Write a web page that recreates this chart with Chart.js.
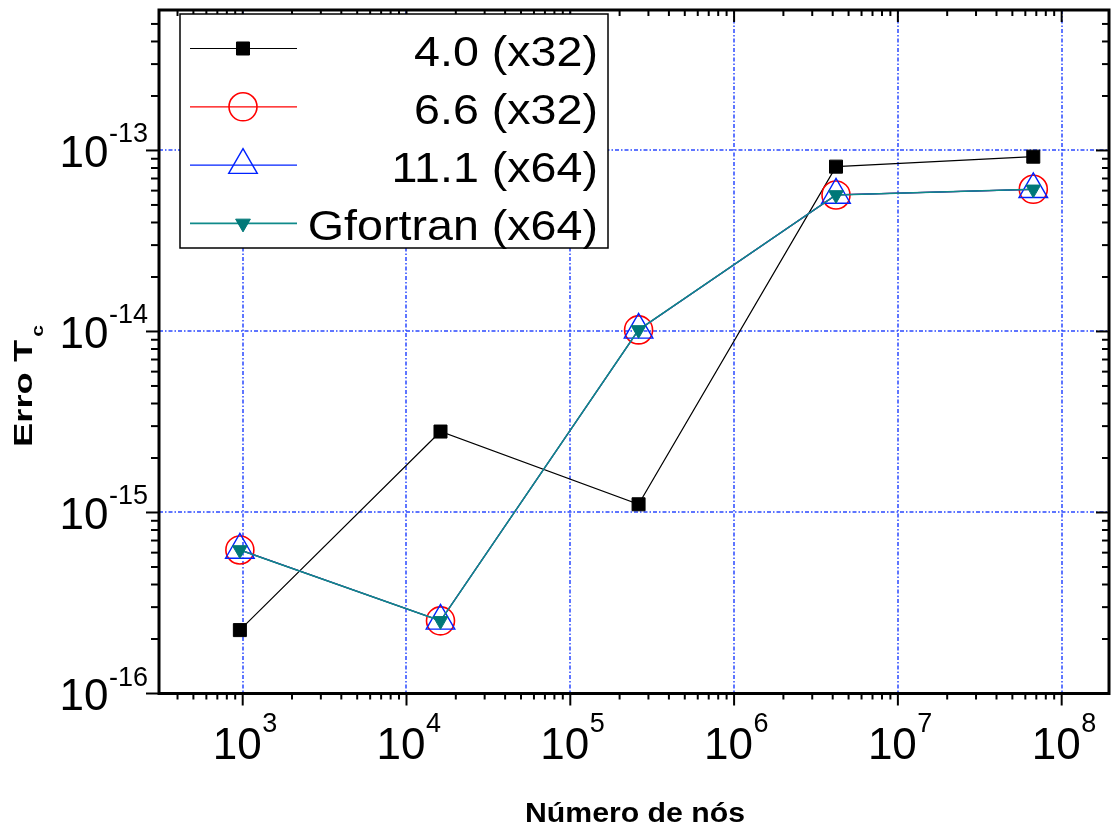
<!DOCTYPE html>
<html>
<head>
    <title>Erro Tc vs Número de nós</title>
    <script src="https://cdn.jsdelivr.net/npm/chart.js"></script>
    <style>
        body { margin: 0; background: #fff; }
    </style>
</head>
<body>
    <canvas id="errChart" width="1112" height="827"></canvas>

    <script>
        // dados
        const nodes = [961, 16129, 261121, 4190209, 67092481];
        const err40 = [2.24e-16, 2.80e-15, 1.11e-15, 8.14e-14, 9.24e-14];
        const err66 = [6.21e-16, 2.52e-16, 1.02e-14, 5.68e-14, 6.10e-14];
        const err111 = [6.21e-16, 2.52e-16, 1.02e-14, 5.68e-14, 6.10e-14];
        const errGf = [6.21e-16, 2.52e-16, 1.02e-14, 5.68e-14, 6.10e-14];
        const seriesLabels = ['4.0 (x32)', '6.6 (x32)', '11.1 (x64)', 'Gfortran (x64)'];
        const xTickExps = [3, 4, 5, 6, 7, 8];
        const yTickExps = [-16, -15, -14, -13];
        const xTitle = 'Número de nós';
        const yTitle = 'Erro T';
        const yTitleSub = 'c';

        const FONT = "'Liberation Sans', Arial, sans-serif";

        function pts(ys) {
            return nodes.map((x, i) => ({ x: x, y: ys[i] }));
        }

        function txt(ctx, s, x, y, font, align, sx) {
            ctx.save();
            ctx.font = font;
            const w = ctx.measureText(s).width * sx;
            const x0 = align === 'right' ? x - w : (align === 'center' ? x - w / 2 : x);
            ctx.translate(x0, y);
            ctx.scale(sx, 1);
            ctx.textAlign = 'left';
            ctx.textBaseline = 'alphabetic';
            ctx.fillStyle = '#000';
            ctx.fillText(s, 0, 0);
            ctx.restore();
            return w;
        }

        // grade, eixos, rótulos e legenda desenhados à moda do Origin
        const originStyle = {
            id: 'originStyle',
            beforeDatasetsDraw(chart) {
                const ctx = chart.ctx;
                const a = chart.chartArea;
                const xs = chart.scales.x, ys = chart.scales.y;
                ctx.save();
                ctx.strokeStyle = '#2a48ff';
                ctx.lineWidth = 1.5;
                ctx.setLineDash([4, 2, 1.5, 2]);
                xTickExps.forEach(e => {
                    const px = Math.round(xs.getPixelForValue(Math.pow(10, e)));
                    ctx.beginPath(); ctx.moveTo(px, a.top); ctx.lineTo(px, a.bottom); ctx.stroke();
                });
                yTickExps.forEach(e => {
                    const py = Math.round(ys.getPixelForValue(Math.pow(10, e)));
                    if (py > a.bottom - 2) return;
                    ctx.beginPath(); ctx.moveTo(a.left, py); ctx.lineTo(a.right, py); ctx.stroke();
                });
                ctx.restore();
            },
            afterDraw(chart) {
                const ctx = chart.ctx;
                const a = chart.chartArea;
                const xs = chart.scales.x, ys = chart.scales.y;
                ctx.save();

                // moldura
                ctx.strokeStyle = '#000';
                ctx.lineWidth = 3;
                ctx.strokeRect(a.left, a.top, a.right - a.left, a.bottom - a.top);

                // marcas maiores e menores
                ctx.lineWidth = 2;
                const xmin = Math.log10(xs.min), xmax = Math.log10(xs.max);
                for (let d = Math.floor(xmin); d <= Math.ceil(xmax); d++) {
                    for (let k = 1; k <= 9; k++) {
                        const v = k * Math.pow(10, d);
                        if (v < xs.min || v > xs.max) continue;
                        const px = xs.getPixelForValue(v);
                        const len = k === 1 ? 12 : 6;
                        ctx.beginPath(); ctx.moveTo(px, a.bottom); ctx.lineTo(px, a.bottom + len); ctx.stroke();
                        ctx.beginPath(); ctx.moveTo(px, a.top); ctx.lineTo(px, a.top + len); ctx.stroke();
                    }
                }
                const ymin = Math.log10(ys.min), ymax = Math.log10(ys.max);
                for (let d = Math.floor(ymin); d <= Math.ceil(ymax); d++) {
                    for (let k = 1; k <= 9; k++) {
                        const v = k * Math.pow(10, d);
                        if (v < ys.min * 0.999 || v > ys.max) continue;
                        const py = ys.getPixelForValue(v);
                        const len = k === 1 ? 13 : 8;
                        ctx.beginPath(); ctx.moveTo(a.left, py); ctx.lineTo(a.left - len, py); ctx.stroke();
                        ctx.beginPath(); ctx.moveTo(a.right, py); ctx.lineTo(a.right - (k === 1 ? 13 : 7), py); ctx.stroke();
                    }
                }

                // rótulos das marcas
                const bigF = '44px ' + FONT, supF = '27px ' + FONT;
                xTickExps.forEach(e => {
                    const px = xs.getPixelForValue(Math.pow(10, e));
                    ctx.font = bigF; const w1 = ctx.measureText('10').width;
                    ctx.font = supF; const w2 = ctx.measureText(String(e)).width;
                    const x0 = px - (w1 + w2) / 2 + 2;
                    txt(ctx, '10', x0, 759, bigF, 'left', 1);
                    txt(ctx, String(e), x0 + w1 + 0.5, 732, supF, 'left', 1);
                });
                yTickExps.forEach(e => {
                    const py = ys.getPixelForValue(Math.pow(10, e));
                    const right = a.left - 11;
                    const w2 = txt(ctx, String(e), right, py - 8, supF, 'right', 1);
                    txt(ctx, '10', right - w2 - 0.5, py + 16.5, bigF, 'right', 1);
                });

                // títulos dos eixos
                txt(ctx, xTitle, 635, 822, 'bold 27px ' + FONT, 'center', 1.12);
                ctx.save();
                ctx.translate(32, 447);
                ctx.rotate(-Math.PI / 2);
                const wt = txt(ctx, yTitle, 0, 0, 'bold 26px ' + FONT, 'left', 1.4);
                txt(ctx, yTitleSub, wt + 3, 11, 'bold 16px ' + FONT, 'left', 1.3);
                ctx.restore();

                // legenda
                const box = { l: 180, t: 14, r: 608, b: 248 };
                ctx.fillStyle = '#fff';
                ctx.fillRect(box.l, box.t, box.r - box.l, box.b - box.t);
                ctx.strokeStyle = '#000';
                ctx.lineWidth = 1.5;
                ctx.strokeRect(box.l, box.t, box.r - box.l, box.b - box.t);
                chart.data.datasets.forEach((ds, i) => {
                    const ry = 48.5 + i * 58.3;
                    ctx.save();
                    ctx.strokeStyle = ds.borderColor;
                    ctx.lineWidth = ds.borderWidth;
                    ctx.beginPath(); ctx.moveTo(190, ry); ctx.lineTo(297, ry); ctx.stroke();
                    ctx.strokeStyle = ds.pointBorderColor;
                    ctx.fillStyle = ds.pointBackgroundColor;
                    ctx.lineWidth = ds.pointBorderWidth;
                    Chart.helpers.drawPoint(ctx, {
                        pointStyle: ds.pointStyle,
                        radius: ds.pointRadius,
                        rotation: ds.pointRotation || 0,
                        borderWidth: ds.pointBorderWidth
                    }, 243, ry);
                    ctx.restore();
                    txt(ctx, ds.label, 598, ry + 17, '42px ' + FONT, 'right', 1.11);
                });

                ctx.restore();
            }
        };

        const ctx = document.getElementById('errChart').getContext('2d');
        const chart = new Chart(ctx, {
            type: 'line',
            data: {
                datasets: [
                    {
                        label: seriesLabels[0],
                        data: pts(err40),
                        borderColor: '#000000',
                        borderWidth: 1.2,
                        pointStyle: 'rect',
                        pointRadius: 9.2,
                        pointBackgroundColor: '#000000',
                        pointBorderColor: '#000000',
                        pointBorderWidth: 1,
                        order: 3
                    },
                    {
                        label: seriesLabels[1],
                        data: pts(err66),
                        borderColor: '#ff0000',
                        borderWidth: 1.2,
                        pointStyle: 'circle',
                        pointRadius: 14,
                        pointBackgroundColor: 'rgba(0,0,0,0)',
                        pointBorderColor: '#ff0000',
                        pointBorderWidth: 1.6,
                        order: 2
                    },
                    {
                        label: seriesLabels[2],
                        data: pts(err111),
                        borderColor: '#0022ff',
                        borderWidth: 1.2,
                        pointStyle: 'triangle',
                        pointRadius: 16.5,
                        pointBackgroundColor: 'rgba(0,0,0,0)',
                        pointBorderColor: '#0022ff',
                        pointBorderWidth: 1.4,
                        order: 1
                    },
                    {
                        label: seriesLabels[3],
                        data: pts(errGf),
                        borderColor: '#0f8a8a',
                        borderWidth: 1.6,
                        pointStyle: 'triangle',
                        pointRotation: 180,
                        pointRadius: 8.5,
                        pointBackgroundColor: '#007878',
                        pointBorderColor: '#007878',
                        pointBorderWidth: 1,
                        order: 0
                    }
                ]
            },
            options: {
                responsive: false,
                animation: false,
                layout: {
                    autoPadding: false,
                    padding: { left: 159, right: 3, top: 10, bottom: 133.5 }
                },
                plugins: {
                    legend: { display: false },
                    tooltip: { enabled: false }
                },
                scales: {
                    x: {
                        type: 'logarithmic',
                        min: 308.3,
                        max: 1.945e8,
                        display: false
                    },
                    y: {
                        type: 'logarithmic',
                        min: 1e-16,
                        max: 5.97e-13,
                        display: false
                    }
                }
            },
            plugins: [originStyle]
        });
    </script>
</body>
</html>
